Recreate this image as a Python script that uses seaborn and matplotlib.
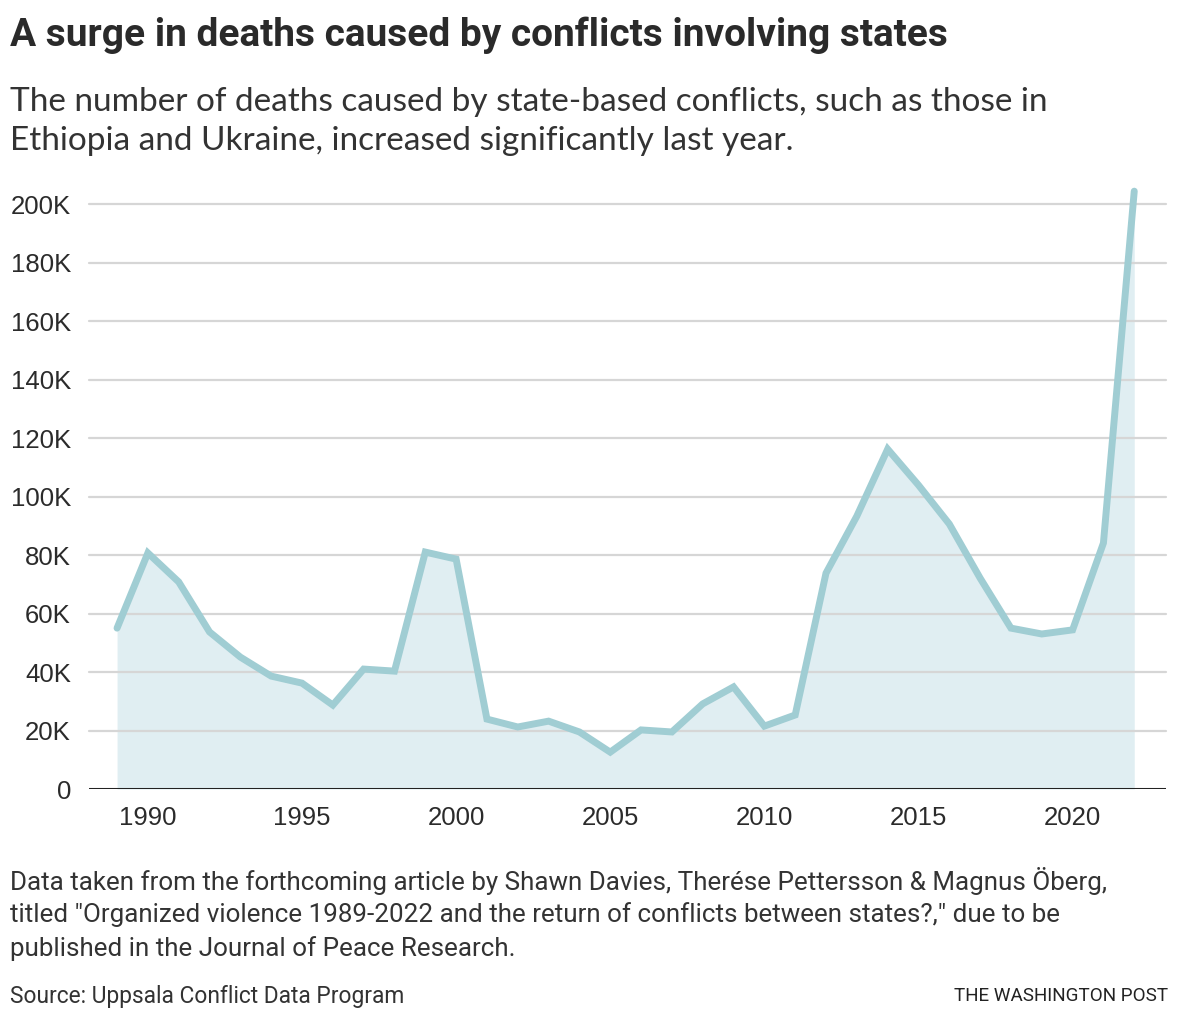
import matplotlib
matplotlib.use("Agg")
import matplotlib.pyplot as plt
import seaborn as sns
import pandas as pd
from matplotlib.ticker import FuncFormatter

years = list(range(1989, 2023))
deaths = [55000, 80700, 70800, 53700, 45100, 38600, 36200, 28700, 41000, 40300,
          81000, 78600, 23900, 21200, 23200, 19500, 12600, 20200, 19500, 29100,
          34900, 21500, 25300, 73800, 93300, 116200, 103900, 90600, 72100, 55000,
          53000, 54400, 84100, 204400]
yticks = [0, 20000, 40000, 60000, 80000, 100000, 120000, 140000, 160000, 180000, 200000]
xticks = [1990, 1995, 2000, 2005, 2010, 2015, 2020]

df = pd.DataFrame({"year": years, "deaths": deaths})

sns.set_theme(style="white")
plt.rcParams["font.family"] = ["Liberation Sans", "DejaVu Sans"]

W, H = 1180, 1022
fig = plt.figure(figsize=(W / 100, H / 100), dpi=100)
ax_left, ax_right, ax_top, ax_bot = 89, 1166, 189.4, 789
ax = fig.add_axes([ax_left / W, 1 - ax_bot / H, (ax_right - ax_left) / W, (ax_bot - ax_top) / H])

line_c = "#a0cdd3"
fill_c = "#e0eef2"
ax.fill_between(df["year"], df["deaths"], 0, color=fill_c, lw=0, zorder=1)
for y in yticks[1:]:
    ax.axhline(y, color="#d6d6d6", lw=1.6, zorder=2)
sns.lineplot(data=df, x="year", y="deaths", ax=ax, color=line_c, lw=5,
             solid_capstyle="round", solid_joinstyle="miter", zorder=3)
for ln in ax.get_lines():
    ln.set_clip_on(False)
ax.axhline(0, color="#222222", lw=2.2, zorder=4)

ax.set_xlim(1988.09, 2023.03)
ax.set_ylim(0, 205000)
ax.set_yticks(yticks)
ax.set_xticks(xticks)
ax.yaxis.set_major_formatter(FuncFormatter(lambda v, p: "0" if v == 0 else f"{int(v/1000)}K"))
ax.tick_params(axis="both", length=0, labelsize=18.5, colors="#2b2b2b")
ax.tick_params(axis="y", pad=13)
ax.tick_params(axis="x", pad=12)
ax.set_xlabel("")
ax.set_ylabel("")
for s in ax.spines.values():
    s.set_visible(False)
ax.set_facecolor("none")

def ftext(x, y, s, **kw):
    fig.text(x / W, 1 - y / H, s, **kw)

ftext(10, 35, "A surge in deaths caused by conflicts involving states",
      fontsize=28, fontweight="bold", color="#2a2a2a", va="center", family=["Roboto", "DejaVu Sans"])
ftext(10, 102, "The number of deaths caused by state-based conflicts, such as those in",
      fontsize=24, color="#333333", va="center", family=["Lato", "DejaVu Sans"])
ftext(10, 141, "Ethiopia and Ukraine, increased significantly last year.",
      fontsize=24, color="#333333", va="center", family=["Lato", "DejaVu Sans"])

foot = ["Data taken from the forthcoming article by Shawn Davies, Therése Pettersson & Magnus Öberg,",
        "titled \"Organized violence 1989-2022 and the return of conflicts between states?,\" due to be",
        "published in the Journal of Peace Research."]
for i, t in enumerate(foot):
    ftext(10, 881 + i * 34, t, fontsize=18.7, color="#333333", va="center", family=["Roboto", "DejaVu Sans"])
ftext(10, 996, "Source: Uppsala Conflict Data Program", fontsize=16.4, color="#333333", va="center",
      family=["Roboto", "DejaVu Sans"])
ftext(1168, 996, "THE WASHINGTON POST", fontsize=13.6, color="#222222", va="center", ha="right",
      family=["Roboto", "DejaVu Sans"])

fig.savefig("out.png", dpi=100, facecolor="white")
